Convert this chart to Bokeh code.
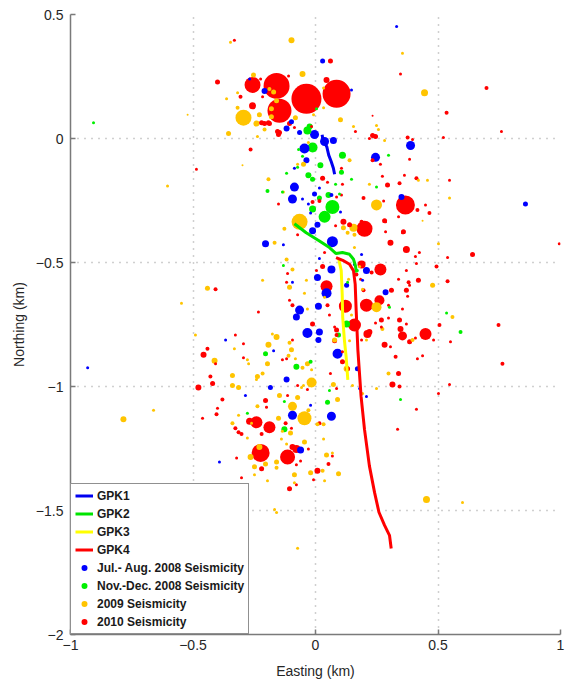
from bokeh.plotting import figure
from bokeh.models import Range1d, FixedTicker, ColumnDataSource, Legend, LegendItem
from bokeh.embed import file_html
from bokeh.resources import INLINE

x_ticks = [-1, -0.5, 0, 0.5, 1]
y_ticks = [-2, -1.5, -1, -0.5, 0, 0.5]

# Well trajectories (Easting km, Northing km)
gpk1_x = [0.027, 0.03, 0.046, 0.054, 0.064, 0.073, 0.078]
gpk1_y = [0.015, -0.003, -0.033, -0.067, -0.093, -0.12, -0.144]
gpk2_x = [-0.086, -0.038, 0.016, 0.057, 0.084, 0.11, 0.139, 0.155, 0.163, 0.167]
gpk2_y = [-0.344, -0.38, -0.413, -0.44, -0.464, -0.46, -0.467, -0.487, -0.513, -0.54]
gpk3_x = [0.095, 0.105, 0.109, 0.111, 0.118, 0.125, 0.132]
gpk3_y = [-0.487, -0.533, -0.627, -0.72, -0.813, -0.88, -0.973]
gpk4_x = [0.084, 0.111, 0.139, 0.155, 0.162, 0.166, 0.173, 0.186, 0.2, 0.22, 0.241, 0.259, 0.282, 0.302, 0.309]
gpk4_y = [-0.48, -0.491, -0.507, -0.533, -0.587, -0.693, -0.853, -1.04, -1.173, -1.32, -1.427, -1.507, -1.56, -1.6, -1.653]

# Seismicity events: (easting, northing, magnitude marker size)
seis_julaug_2008 = [
    (-0.004, 0.016, 9), (0.037, -0.012, 9), (-0.045, -0.04, 10), (0.073, -0.008, 7), (0.245, -0.076, 9),
    (0.388, -0.028, 9), (-0.086, -0.196, 9), (-0.094, -0.244, 9), (-0.037, -0.088, 6), (-0.004, -0.224, 5),
    (0.069, -0.416, 11), (-0.012, -0.372, 7), (0.008, -0.348, 6), (-0.204, -0.424, 7), (0.045, -0.624, 10),
    (0.008, -0.56, 7), (0.208, -0.532, 7), (0.065, -0.528, 8), (0.012, -0.676, 7), (-0.065, -0.692, 9),
    (-0.078, -0.72, 7), (-0.033, -0.784, 10), (0.016, -0.78, 7), (0.012, -0.812, 6), (0.09, -0.868, 10),
    (0.286, -0.62, 6), (0.188, -0.468, 3), (0.127, -0.592, 5), (0.065, -1.12, 9), (-0.094, -1.116, 9),
    (-0.118, -0.972, 6), (-0.184, -1.004, 5), (0.171, -0.928, 5), (0.18, -1.008, 3), (0.208, -1.04, 3),
    (-0.061, -1.256, 7), (-0.392, -1.304, 3), (-0.367, -0.812, 3), (-0.286, -1.036, 3), (-0.171, -0.856, 3),
    (-0.02, -1.076, 3), (0.331, 0.452, 3), (0.857, -0.264, 5), (0.351, -0.236, 6), (-0.93, -0.924, 3),
    (0.029, 0.312, 5), (-0.269, 0.24, 3), (-0.208, 0.192, 6), (-0.118, 0.04, 6), (-0.098, 0.068, 5),
    (0.147, 0.196, 3), (-0.065, 0.024, 5), (-0.086, -0.12, 3), (0.016, -0.2, 3), (-0.053, -0.244, 3),
    (-0.029, -0.264, 3), (0.065, -0.228, 4), (-0.02, -0.3, 3), (0.102, -0.296, 3), (0.159, -0.508, 3),
    (0.192, -0.572, 3), (-0.131, -0.428, 3), (-0.094, -0.58, 3), (0.016, -0.484, 3),
]

seis_novdec_2008 = [
    (0.069, -0.276, 14), (0.037, -0.316, 12), (-0.012, -0.036, 10), (-0.033, 0.032, 8), (0.02, -0.108, 6),
    (0.11, -0.068, 7), (-0.029, -0.148, 6), (-0.012, -0.164, 5), (0.053, -0.228, 6), (-0.012, -0.284, 7),
    (-0.196, -0.212, 4), (-0.135, -0.216, 3), (-0.118, -0.14, 3), (-0.073, -0.116, 3), (-0.069, -0.044, 3),
    (0.106, -0.136, 5), (0.147, -0.164, 3), (0.082, -0.184, 3), (0.098, -0.224, 3), (-0.053, -0.072, 3),
    (-0.131, -0.512, 3), (0.171, -0.532, 3), (0.249, -0.196, 3), (0.016, -0.24, 5), (0.298, -0.068, 3),
    (0.127, -0.748, 7), (0.094, -0.792, 5), (-0.204, -0.868, 5), (-0.078, -0.92, 6), (-0.02, -0.9, 4),
    (0.049, -1.064, 5), (0.057, -1.016, 3), (0.347, -1.052, 3), (0.302, -0.68, 3), (0.592, -0.78, 4),
    (0.535, -0.704, 3), (0.131, -0.58, 3), (-0.906, 0.064, 3), (-0.127, -1.06, 3), (-0.278, -1.108, 3),
    (-0.127, -1.172, 6), (-0.024, 0.048, 6), (0.004, 0.12, 3),
]

seis_2009 = [
    (-0.347, 0.388, 3), (-0.098, 0.396, 6), (-0.253, 0.256, 5), (-0.053, 0.26, 6), (-0.318, 0.184, 3),
    (-0.363, 0.16, 3), (-0.171, 0.188, 5), (-0.188, 0.2, 4), (-0.159, 0.152, 5), (-0.318, 0.124, 4),
    (-0.229, 0.096, 5), (-0.241, 0.06, 6), (-0.18, 0.12, 5), (-0.18, 0.088, 5), (-0.082, 0.084, 5),
    (-0.208, 0.036, 4), (-0.355, 0.02, 5), (-0.237, 0.008, 3), (-0.008, 0.096, 3), (0.033, 0.204, 3),
    (0.033, 0.124, 3), (0.102, 0.076, 5), (0.155, 0.048, 3), (0.249, 0.052, 3), (0.257, 0.036, 3),
    (0.282, -0.008, 3), (0.355, 0.344, 3), (0.445, 0.184, 7), (-0.522, 0.096, 2), (-0.298, -0.108, 2),
    (-0.192, -0.164, 4), (-0.073, -0.104, 3), (-0.049, -0.104, 5), (0.139, -0.088, 4), (0.22, -0.184, 3),
    (0.457, -0.168, 3), (0.547, -0.24, 3), (0.42, -0.168, 3), (0.437, -0.332, 2), (-0.131, -0.216, 3),
    (-0.127, -0.364, 4), (0.159, -0.388, 4), (0.114, -0.36, 5), (-0.029, -0.016, 3), (-0.294, 0.084, 16),
    (-0.604, -0.192, 3), (-0.065, -0.336, 16), (0.249, -0.268, 11), (-0.167, -0.42, 4), (0.155, -0.36, 8),
    (0.131, -0.38, 4), (0.18, -0.516, 3), (0.159, -0.44, 3), (0.135, -0.568, 3), (0.192, -0.608, 3),
    (0.502, -0.424, 3), (0.478, -0.592, 5), (0.559, -0.72, 4), (0.396, -0.812, 4), (0.273, -0.768, 4),
    (0.298, -0.948, 4), (0.249, -0.68, 10), (-0.118, -0.488, 4), (-0.094, -0.528, 4), (-0.216, -0.572, 3),
    (-0.441, -0.604, 5), (-0.547, -0.664, 3), (-0.106, -0.6, 5), (-0.037, -0.572, 3), (-0.045, -0.624, 3),
    (-0.033, -0.688, 3), (0.037, -0.64, 3), (0.147, -0.712, 3), (0.208, -0.812, 3), (0.249, -1.008, 3),
    (-0.49, -0.792, 3), (-0.412, -0.896, 6), (-0.339, -0.956, 5), (-0.339, -0.996, 5), (-0.314, -1.004, 5),
    (-0.237, -0.96, 5), (-0.216, -0.948, 4), (-0.192, -0.832, 6), (-0.159, -0.8, 6), (-0.196, -0.908, 5),
    (-0.098, -0.852, 5), (-0.106, -0.824, 4), (-0.11, -0.876, 4), (-0.033, -0.908, 5), (-0.053, -0.924, 4),
    (-0.016, -0.932, 3), (-0.049, -0.996, 3), (0.078, -0.812, 5), (0.073, -0.992, 5), (0.139, -0.816, 3),
    (0.127, -0.928, 6), (-0.237, -1.08, 4), (-0.147, -1.036, 5), (-0.094, -1.08, 9), (-0.045, -1.128, 14),
    (-0.151, -1.128, 5), (-0.029, -1.096, 4), (0.008, -1.152, 4), (0.033, -1.212, 3), (0.09, -1.052, 5),
    (0.151, -0.996, 3), (0.192, -1.028, 3), (-0.331, -0.848, 3), (-0.278, -0.892, 3), (-0.273, -0.908, 3),
    (-0.241, -0.972, 3), (-0.176, -0.788, 3), (-0.082, -0.888, 3), (-0.073, -1.044, 5), (-0.016, -0.984, 10),
    (-0.057, -1.004, 3), (-0.339, -1.148, 4), (-0.314, -1.116, 3), (-0.261, -1.148, 3), (-0.229, -1.244, 6),
    (-0.265, -1.284, 6), (-0.204, -1.312, 5), (-0.249, -1.356, 3), (-0.159, -1.304, 5), (-0.159, -1.328, 4),
    (-0.139, -1.212, 3), (-0.118, -1.232, 3), (-0.102, -1.188, 5), (-0.135, -1.18, 3), (-0.045, -1.224, 5),
    (-0.086, -1.356, 5), (-0.086, -1.388, 3), (-0.196, -1.38, 3), (-0.02, -1.348, 5), (0.029, -1.34, 4),
    (0.045, -1.276, 5), (0.069, -1.268, 3), (0.037, -1.38, 3), (0.033, -1.152, 4), (-0.073, -1.652, 3),
    (-0.167, -1.496, 3), (-0.159, -1.508, 3), (0.453, -1.456, 7), (0.6, -1.468, 3), (0.094, -1.352, 5),
    (-0.784, -1.132, 6), (-0.661, -1.096, 3), (-0.278, -1.208, 3), (-0.249, -1.324, 5),
]

seis_2010 = [
    (-0.037, 0.16, 30), (0.086, 0.18, 28), (-0.159, 0.212, 26), (-0.147, 0.112, 24), (-0.257, 0.216, 16),
    (0.367, -0.268, 19), (0.2, -0.364, 16), (0.208, -0.672, 13), (0.122, -0.676, 13), (0.159, -0.752, 13),
    (0.265, -0.528, 12), (0.449, -0.788, 12), (0.045, -0.596, 12), (0.261, -0.652, 10), (0.212, -0.788, 8),
    (0.355, -0.796, 9), (0.371, -0.448, 7), (0.306, -0.42, 6), (-0.241, -1.144, 12), (-0.188, -1.164, 12),
    (-0.224, -1.268, 18), (-0.114, -1.284, 15), (-0.078, -1.252, 8), (0.008, -1.34, 6),
    (-0.331, 0.396, 3), (-0.4, 0.228, 5), (-0.224, 0.24, 3), (-0.306, 0.168, 4), (-0.257, 0.132, 7),
    (-0.216, 0.168, 3), (-0.208, 0.06, 5), (-0.188, 0.06, 5), (-0.155, 0.028, 5), (-0.151, 0.016, 5),
    (-0.11, 0.252, 3), (0.045, 0.236, 6), (0.061, 0.312, 5), (-0.086, 0.044, 3), (-0.016, 0.048, 3),
    (0.347, 0.26, 3), (0.233, 0.092, 2), (0.163, 0.028, 3), (0.233, 0.012, 5), (0.22, 0.0, 3),
    (0.376, 0.004, 4), (0.396, -0.004, 3), (0.522, 0.004, 3), (0.535, 0.104, 4), (-0.265, -0.044, 4),
    (-0.486, -0.124, 3), (0.233, -0.088, 4), (0.265, -0.104, 3), (0.384, -0.084, 3), (0.106, -0.12, 3),
    (0.029, -0.16, 5), (0.049, -0.176, 3), (0.11, -0.184, 3), (0.273, -0.152, 3), (0.294, -0.188, 5),
    (0.343, -0.18, 4), (0.363, -0.148, 3), (0.412, -0.16, 4), (0.547, -0.168, 3), (0.196, -0.24, 4),
    (0.278, -0.252, 3), (-0.012, -0.256, 4), (-0.151, -0.264, 3), (0.106, -0.228, 3), (0.286, -0.336, 3),
    (0.339, -0.316, 3), (0.416, -0.288, 4), (0.449, -0.268, 3), (0.465, -0.3, 4), (0.355, -0.38, 3),
    (-0.073, -0.388, 3), (0.082, -0.352, 3), (0.698, 0.204, 4), (0.759, 0.028, 3), (0.282, -0.332, 5),
    (0.359, -0.376, 5), (0.286, -0.376, 3), (0.424, -0.46, 3), (0.408, -0.476, 3), (0.641, -0.468, 5),
    (0.995, -0.424, 3), (0.539, -0.48, 3), (0.412, -0.504, 3), (0.494, -0.516, 4), (0.539, -0.576, 4),
    (0.371, -0.532, 3), (0.339, -0.568, 3), (0.42, -0.572, 5), (0.384, -0.592, 3), (0.31, -0.612, 5),
    (0.371, -0.612, 5), (0.376, -0.636, 3), (0.355, -0.688, 3), (0.298, -0.724, 3), (0.343, -0.732, 5),
    (0.269, -0.732, 5), (0.371, -0.748, 3), (0.506, -0.752, 4), (0.747, -0.752, 4), (0.347, -0.768, 6),
    (0.482, -0.812, 3), (0.384, -0.82, 5), (0.551, -0.82, 3), (0.282, -0.832, 6), (0.306, -0.84, 3),
    (0.327, -0.88, 4), (0.416, -0.888, 3), (0.763, -0.908, 4), (0.339, -0.948, 5), (0.314, -0.992, 6),
    (0.343, -1.0, 4), (0.547, -0.992, 3), (0.502, -1.028, 3), (0.412, -1.092, 3), (0.335, -1.172, 3),
    (-0.461, -1.128, 3), (-0.269, -1.14, 7), (-0.322, -1.288, 3), (-0.302, -1.368, 3), (-0.106, -1.412, 5),
    (-0.078, -1.396, 3), (-0.008, -1.376, 3), (0.053, -1.312, 4), (0.069, -1.28, 3), (-0.094, -1.244, 6),
    (-0.029, -1.252, 3), (-0.061, -1.3, 3), (-0.078, -1.316, 3), (-0.22, -1.332, 5), (-0.098, -1.168, 3),
    (-0.408, -0.608, 4), (-0.233, -0.7, 3), (-0.327, -0.792, 3), (-0.294, -0.828, 3), (-0.441, -0.848, 4),
    (-0.457, -0.872, 6), (-0.408, -0.908, 3), (-0.294, -0.884, 3), (-0.429, -0.96, 4), (-0.42, -0.988, 5),
    (-0.478, -1.004, 6), (-0.38, -1.052, 4), (-0.4, -1.088, 3), (-0.404, -1.112, 4), (-0.327, -1.168, 4),
    (-0.314, -1.184, 4), (-0.302, -1.192, 4), (-0.094, -0.812, 3), (-0.135, -0.892, 3), (-0.204, -1.056, 5),
    (-0.2, -1.084, 3), (-0.114, -1.036, 3), (-0.122, -1.148, 4), (-0.22, -1.192, 4), (0.016, -1.148, 4),
    (-0.012, -0.748, 5), (0.086, -0.772, 5), (0.078, -0.816, 5), (-0.033, -1.012, 3), (-0.073, -0.996, 3),
    (0.114, -0.336, 6), (0.139, -0.348, 5), (0.188, -0.368, 4), (0.188, -0.508, 8), (0.167, -0.548, 4),
    (0.229, -0.54, 4), (0.184, -0.568, 3), (0.196, -0.612, 4), (0.38, -0.58, 4), (0.298, -0.672, 3),
    (0.245, -0.744, 3), (0.269, -0.76, 3), (0.22, -0.78, 6), (0.408, -0.804, 3), (0.437, -0.876, 3),
    (-0.094, -0.672, 4), (-0.106, -0.652, 3), (-0.118, -0.58, 3), (-0.114, -0.544, 3), (0.049, -0.672, 4),
    (0.057, -0.712, 3), (0.078, -0.76, 3), (0.086, -0.792, 4), (0.037, -0.46, 3), (0.004, -0.532, 3),
    (0.029, -0.516, 5), (0.188, -0.812, 3), (0.11, -0.9, 5), (0.131, -0.928, 5), (0.11, -0.86, 3),
    (0.061, -0.948, 3), (0.086, -1.008, 3), (-0.118, -0.888, 3), (0.016, -0.252, 4), (0.086, -0.236, 3),
    (0.245, 0.008, 5), (0.2, -0.38, 4), (0.188, -0.336, 4), (-0.147, 0.024, 5), (-0.192, 0.064, 5),
    (-0.22, 0.064, 5), (-0.106, 0.06, 5),
]

series = [
    ("2010 Seismicity", "#FF0000", seis_2010),
    ("2009 Seismicity", "#FFC400", seis_2009),
    ("Nov.-Dec. 2008 Seismicity", "#00F000", seis_novdec_2008),
    ("Jul.- Aug. 2008 Seismicity", "#0000FF", seis_julaug_2008),
]

rows = []
for k, (lab, col, pts) in enumerate(series):
    for (ex, ny, m) in pts:
        rows.append((m, k, ex, ny, col))
rows.sort(key=lambda r: -r[0])  # large events first, small ones on top
src = ColumnDataSource(dict(
    x=[r[2] for r in rows], y=[r[3] for r in rows],
    size=[r[0] for r in rows], color=[r[4] for r in rows],
))
first_idx = {}
for i, r in enumerate(rows):
    first_idx.setdefault(r[1], i)

FONT = "Liberation Sans"

p = figure(width=568, height=681, output_backend="svg", toolbar_location=None,
           x_range=Range1d(-1, 1), y_range=Range1d(-2, 0.5),
           min_border_left=70, min_border_right=8, min_border_top=14, min_border_bottom=42)
p.outline_line_color = None
p.background_fill_color = "white"
p.border_fill_color = "white"

scat = p.scatter("x", "y", source=src, size="size", fill_color="color", line_color=None)

wells = [
    ("GPK1", gpk1_x, gpk1_y, "#0000F0"),
    ("GPK2", gpk2_x, gpk2_y, "#00E400"),
    ("GPK3", gpk3_x, gpk3_y, "#FFFF00"),
    ("GPK4", gpk4_x, gpk4_y, "#FF0000"),
]
well_renderers = []
for name, wx, wy, col in wells:
    r = p.line(wx, wy, line_color=col, line_width=3)
    well_renderers.append((name, r))

def fmt(v):
    s = f"{v:g}"
    return s.replace("-", "\u2212")

for ax, ticks in ((p.xaxis, x_ticks), (p.yaxis, y_ticks)):
    ax.ticker = FixedTicker(ticks=ticks)
    ax.major_label_overrides = {float(t): fmt(t) for t in ticks}
    ax.major_label_text_font = FONT
    ax.major_label_text_font_size = "14px"
    ax.major_label_text_color = "#262626"
    ax.axis_label_text_font = FONT
    ax.axis_label_text_font_size = "14px"
    ax.axis_label_text_font_style = "normal"
    ax.axis_label_text_color = "#262626"
    ax.axis_line_color = "#7a7a7a"
    ax.axis_line_width = 1.5
    ax.major_tick_line_color = "#7a7a7a"
    ax.major_tick_line_width = 1.5
    ax.major_tick_in = 5
    ax.major_tick_out = 0
    ax.minor_tick_line_color = None

p.xaxis.axis_label = "Easting (km)"
p.yaxis.axis_label = "Northing (km)"
p.xaxis.major_label_standoff = 5
p.xaxis.axis_label_standoff = 10
p.yaxis.major_label_standoff = 7
p.yaxis.axis_label_standoff = 6

for g, ticks in ((p.xgrid, x_ticks), (p.ygrid, y_ticks)):
    g.ticker = FixedTicker(ticks=ticks)
    g.grid_line_color = "#a0a0a0"
    g.grid_line_width = 1.5
    g.grid_line_dash = "1 6"

items = [LegendItem(label=name, renderers=[r]) for name, r in well_renderers]
for k in (3, 2, 1, 0):
    items.append(LegendItem(label=series[k][0], renderers=[scat], index=first_idx[k]))

legend = Legend(items=items, location="bottom_left", margin=0, padding=4, spacing=3,
                glyph_width=18, glyph_height=15, label_height=15, label_standoff=4,
                label_text_font=FONT, label_text_font_style="bold", label_text_font_size="12px",
                label_text_color="#1a1a1a", border_line_color="#222222", border_line_width=1.5,
                background_fill_color="white", background_fill_alpha=1.0)
p.add_layout(legend)

open("out.html", "w").write(file_html(p, INLINE))
